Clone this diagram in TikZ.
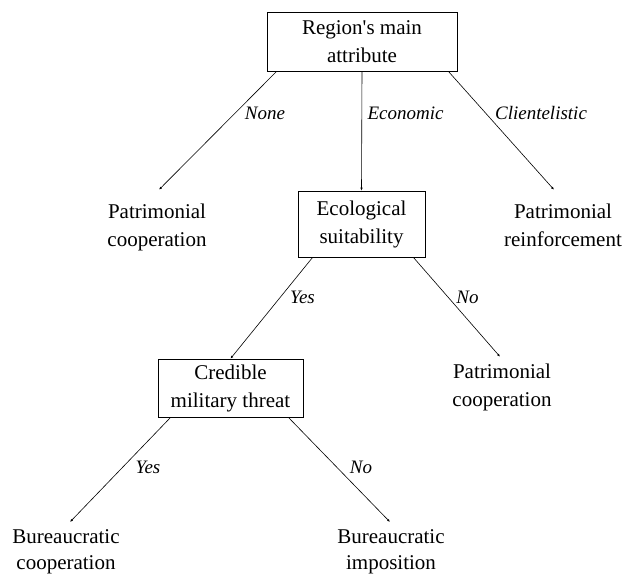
\documentclass[tikz,border=0pt]{standalone}
\usepackage{fontspec}
\setmainfont{Liberation Serif}
\usetikzlibrary{arrows.meta}
\tikzset{
	box/.style={draw, line width=0.7pt, align=center, inner sep=0pt, font=\fontsize{21}{28}\selectfont},
	leaf/.style={align=center, inner sep=0pt, anchor=north, font=\fontsize{21}{28}\selectfont},
	lowleaf/.style={leaf, font=\fontsize{21}{26}\selectfont},
	choice/.style={inner sep=0pt, font=\fontsize{19}{22}\selectfont\itshape},
	branch/.style={-{Latex[length=3pt,width=2.5pt]}, line width=0.6pt}
}
\begin{document}
\begin{tikzpicture}[x=1pt,y=-1pt]
	\useasboundingbox (0,0) rectangle (622,575);

	\node[box, minimum width=190pt, minimum height=59pt] (attr) at (362,41.5) {Region\textquotesingle s main\\attribute};
	\node[box, minimum width=127pt, minimum height=66pt] (eco) at (361.5,224) {Ecological\\suitability};
	\node[box, minimum width=145pt, minimum height=58pt] (mil) at (230.5,388) {Credible\\military threat};

	\node[leaf] (pcoopA) at (157,203.7) {Patrimonial\\cooperation};
	\node[leaf] (preinf) at (563,203.7) {Patrimonial\\reinforcement};
	\node[leaf] (pcoopB) at (502,363.7) {Patrimonial\\cooperation};
	\node[lowleaf] (bcoop) at (66,529) {Bureaucratic\\cooperation};
	\node[lowleaf] (bimpo) at (391,529) {Bureaucratic\\imposition};

	\draw[branch] ([xshift=10pt]attr.south west) -- ([shift={(2pt,14pt)}]pcoopA.north);
	\draw[branch] (attr.south) -- (eco.north);
	\draw[branch] ([xshift=-9pt]attr.south east) -- ([shift={(-9pt,14pt)}]preinf.north);
	\draw[branch] ([xshift=15pt]eco.south west) -- (mil.north);
	\draw[branch] ([xshift=-12pt]eco.south east) -- ([shift={(-2pt,7pt)}]pcoopB.north);
	\draw[branch] ([xshift=13pt]mil.south west) -- ([shift={(4pt,7pt)}]bcoop.north);
	\draw[branch] ([xshift=-15pt]mil.south east) -- ([shift={(-1pt,7pt)}]bimpo.north);

	\node[choice] (none) at (265,113) {None};
	\node[choice] (econ) at (405.5,113) {Economic};
	\node[choice] (clie) at (541,113) {Clientelistic};
	\node[choice] (ecoyes) at (302.5,297) {Yes};
	\node[choice] (econo) at (467.5,297) {No};
	\node[choice] (milyes) at (148,467) {Yes};
	\node[choice] (milno) at (361,467) {No};
\end{tikzpicture}
\end{document}
